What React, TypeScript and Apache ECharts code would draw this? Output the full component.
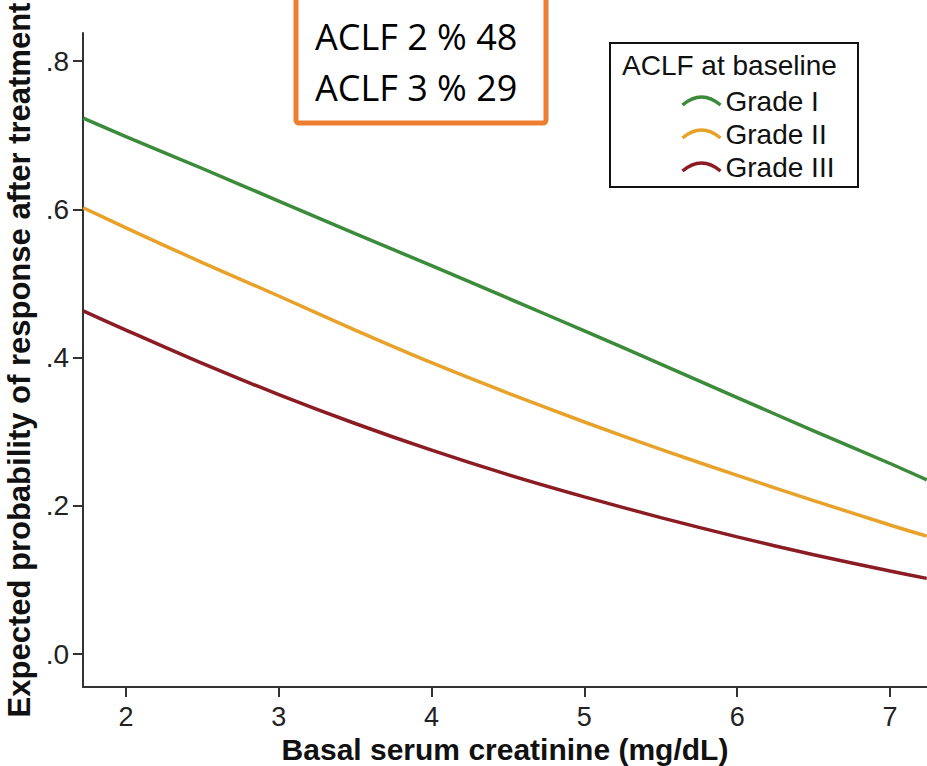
import React, { useEffect, useRef } from "react";
import * as echarts from "echarts";

const creatinine = [1.72, 2, 2.5, 3, 3.5, 4, 4.5, 5, 5.5, 6, 6.5, 7, 7.24];
const gradeI = [0.723, 0.698, 0.655, 0.611, 0.567, 0.524, 0.48, 0.436, 0.391, 0.346, 0.301, 0.257, 0.235];
const gradeII = [0.602, 0.575, 0.528, 0.483, 0.437, 0.393, 0.352, 0.313, 0.276, 0.241, 0.207, 0.174, 0.159];
const gradeIII = [0.463, 0.437, 0.392, 0.35, 0.311, 0.275, 0.242, 0.212, 0.184, 0.158, 0.134, 0.112, 0.102];
const xTicks = [2, 3, 4, 5, 6, 7];
const yTicks = [0, 0.2, 0.4, 0.6, 0.8];
const seriesNames = ["Grade I", "Grade II", "Grade III"];
const seriesColors = ["#3b8b3b", "#e8a22a", "#8c1c24"];
const annotationLines = ["ACLF 2 % 48", "ACLF 3 % 29"];
const legendTitle = "ACLF at baseline";
const xTitle = "Basal serum creatinine (mg/dL)";
const yTitle = "Expected probability of response after treatment";

const FONT = "'Liberation Sans', Arial, Helvetica, sans-serif";

export default function App() {
  const ref = useRef<HTMLDivElement>(null);
  useEffect(() => {
    document.body.style.margin = "0";
    const chart = echarts.init(ref.current!, null, { renderer: "svg" });
    const allData = [gradeI, gradeII, gradeIII];
    const arcIcon = "path://M0,8 Q19,-8 38,8";
    chart.setOption({
      animation: false,
      backgroundColor: "#ffffff",
      textStyle: { fontFamily: FONT },
      grid: { left: 83, right: 0, top: 33, bottom: 79, containLabel: false, outerBoundsMode: "none" },
      xAxis: {
        type: "value",
        min: 1.719,
        max: 7.242,
        name: xTitle,
        nameLocation: "middle",
        nameGap: 40,
        nameTextStyle: { fontSize: 30, fontWeight: "bold", color: "#111", fontFamily: FONT, lineHeight: 30 },
        axisLine: { show: true, onZero: false, lineStyle: { color: "#333", width: 2 } },
        axisTick: { show: true, length: 10, inside: false, customValues: xTicks, lineStyle: { color: "#333", width: 2 } },
        axisLabel: { customValues: xTicks, fontSize: 27, color: "#222", margin: 16, fontFamily: FONT },
        splitLine: { show: false },
      },
      yAxis: {
        type: "value",
        min: -0.0445,
        max: 0.8378,
        name: yTitle,
        nameLocation: "middle",
        nameRotate: 90,
        nameGap: 41,
        nameTextStyle: { fontSize: 31, fontWeight: "bold", color: "#111", fontFamily: FONT },
        axisLine: { show: true, onZero: false, lineStyle: { color: "#333", width: 2 } },
        axisTick: { show: true, length: 10, inside: false, customValues: yTicks, lineStyle: { color: "#333", width: 2 } },
        axisLabel: {
          customValues: yTicks,
          fontSize: 28,
          color: "#222",
          margin: 14,
          fontFamily: FONT,
          formatter: (v: number) => v.toFixed(1).replace(/^0/, ""),
        },
        splitLine: { show: false },
      },
      legend: {
        orient: "vertical",
        left: 680,
        top: 87,
        padding: 0,
        itemGap: 5,
        itemWidth: 38,
        itemHeight: 8,
        selectedMode: false,
        textStyle: { fontSize: 28, color: "#111", fontFamily: FONT, lineHeight: 28, padding: [0, 0, 0, 0] },
        data: seriesNames.map((n, i) => ({
          name: n,
          icon: arcIcon,
          itemStyle: { color: "none", borderColor: seriesColors[i], borderWidth: 3.5 },
        })),
      },
      graphic: [
        {
          type: "rect",
          shape: { x: 610, y: 43, width: 248, height: 144 },
          style: { fill: "none", stroke: "#111", lineWidth: 2 },
          z: 10,
        },
        {
          type: "text",
          x: 622,
          y: 65,
          style: { text: legendTitle, fontSize: 28, fill: "#111", fontFamily: FONT, textVerticalAlign: "middle" },
          z: 10,
        },
        {
          type: "rect",
          shape: { x: 296, y: -10, width: 250, height: 133, r: 3 },
          style: { fill: "#ffffff", stroke: "#ED7D31", lineWidth: 5 },
          z: 10,
        },
        {
          type: "text",
          x: 315,
          y: 36,
          style: { text: annotationLines[0], fontSize: 36, fill: "#000", fontFamily: "'Open Sans', sans-serif", textVerticalAlign: "middle" },
          z: 11,
        },
        {
          type: "text",
          x: 315,
          y: 87,
          style: { text: annotationLines[1], fontSize: 36, fill: "#000", fontFamily: "'Open Sans', sans-serif", textVerticalAlign: "middle" },
          z: 11,
        },
      ],
      series: seriesNames.map((n, i) => ({
        name: n,
        type: "line",
        smooth: 0.3,
        showSymbol: false,
        symbol: "none",
        color: seriesColors[i],
        lineStyle: { color: seriesColors[i], width: 3.5 },
        data: creatinine.map((x, j) => [x, allData[i][j]]),
      })),
    });
    return () => chart.dispose();
  }, []);
  return <div ref={ref} style={{ position: "fixed", left: 0, top: 0, width: 927, height: 766 }} />;
}
